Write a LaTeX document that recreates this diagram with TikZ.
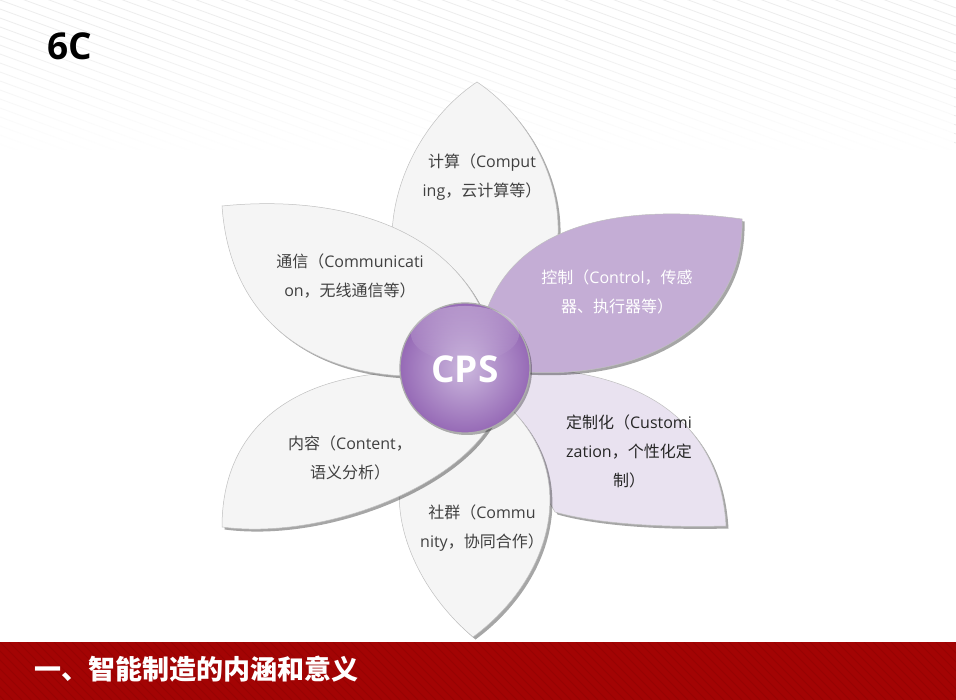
\documentclass[tikz,border=0pt]{standalone}
\usepackage{fontspec}
\setmainfont{Open Sans}
\newfontfamily\cjk{Noto Sans CJK SC}
\usetikzlibrary{shadows,fadings}
\definecolor{petalgray}{RGB}{245,245,245}
\definecolor{petalline}{RGB}{192,192,192}
\definecolor{ctrlpurple}{RGB}{196,173,213}
\definecolor{custpurple}{RGB}{233,226,240}
\definecolor{barred}{RGB}{163,4,4}
\definecolor{txtgray}{RGB}{64,64,64}
\definecolor{ballout}{RGB}{150,106,182}
\definecolor{ballin}{RGB}{204,184,222}
\begin{document}
\begin{tikzpicture}[x=1pt,y=-1pt,
  petal/.style={draw=petalline, line width=0.5pt,
    drop shadow={shadow xshift=2.5pt, shadow yshift=-2.5pt, fill=black, opacity=0.35}},
  ptext/.style={font=\fontsize{16}{29}\selectfont, align=center, text=txtgray, inner sep=0pt}
]
\useasboundingbox (0,0) rectangle (956,700);
\fill[white] (0,0) rectangle (956,700);
% top stripes
\begin{scope}
  \clip (0,0) rectangle (956,150);
  \foreach \i in {-39,...,17} \draw[gray!14, line width=0.8pt] (0,\i*9) -- (956,\i*9+350);
\end{scope}
\fill[white, path fading=north] (0,30) rectangle (956,150);
% title
\node[anchor=base west, inner sep=0pt, font={\fontsize{37}{40}\selectfont\bfseries}] (six) at (47,60) {6C};
% petals
\path[petal, fill=petalgray] (477,82) .. controls (390,140) and (345,290) .. (465,368)
  .. controls (609,290) and (564,140) .. (477,82) -- cycle;
\path[petal, fill=custpurple] (520,368) .. controls (640,370) and (720,420) .. (726,526)
  .. controls (650,528) and (590,522) .. (555,512) -- (500,420) -- cycle;
\path[petal, fill=petalgray] (473,637) .. controls (550,580) and (580,480) .. (512,410)
  -- (465,368) -- (430,420) .. controls (370,480) and (405,580) .. (473,637) -- cycle;
\path[petal, fill=petalgray] (222,527) .. controls (320,540) and (450,490) .. (490,425)
  -- (465,368) -- (405,372) .. controls (290,375) and (222,430) .. (222,527) -- cycle;
\path[petal, fill=ctrlpurple] (742,219) .. controls (745,320) and (650,380) .. (525,372)
  -- (465,368) -- (486,312) .. controls (520,215) and (640,205) .. (742,219) -- cycle;
\path[petal, fill=petalgray] (222,206) .. controls (330,195) and (440,222) .. (482,310)
  -- (465,368) -- (405,376) .. controls (310,372) and (230,320) .. (222,206) -- cycle;
% center ball
\path[draw=gray!65, line width=1.3pt, inner color=ballin, outer color=ballout,
  drop shadow={shadow xshift=2pt, shadow yshift=-2pt, fill=black, opacity=0.3}]
  (465,368) circle[radius=65pt];
\fill[white, fill opacity=0.28, path fading=south] (465,334) ellipse[x radius=54pt, y radius=28pt];
\node[text=white, font={\fontsize{37}{40}\selectfont\bfseries}] (cps) at (465,369) {CPS};
% petal texts
\node[ptext] (t1) at (482,177.5) {{\cjk 计算（}Comput\\ing{\cjk ，云计算等）}};
\node[ptext] (t2) at (350,276.5) {{\cjk 通信（}Communicati\\on{\cjk ，无线通信等）}};
\node[ptext, text=white] (t3) at (617,292) {{\cjk 控制（}Control{\cjk ，传感}\\{\cjk 器、执行器等）}};
\node[ptext, text=black!85] (t4) at (629,451.5) {{\cjk 定制化（}Customi\\zation{\cjk ，个性化定}\\{\cjk 制）}};
\node[ptext] (t5) at (350,458) {{\cjk 内容（}Content{\cjk ，}\\{\cjk 语义分析）}};
\node[ptext] (t6) at (482,528) {{\cjk 社群（}Commu\\nity{\cjk ，协同合作）}};
% bottom bar
\fill[barred] (0,642) rectangle (956,700);
\begin{scope}
  \clip (0,642) rectangle (956,700);
  \foreach \i in {-8,...,110} \draw[black, opacity=0.07, line width=1pt] (\i*9,642) -- (\i*9+58,700);
\end{scope}
\node[anchor=west, inner sep=0pt, text=white, font={\fontsize{27}{30}\selectfont\cjk\bfseries}] (title) at (34,669) {一、智能制造的内涵和意义};
\end{tikzpicture}
\end{document}
